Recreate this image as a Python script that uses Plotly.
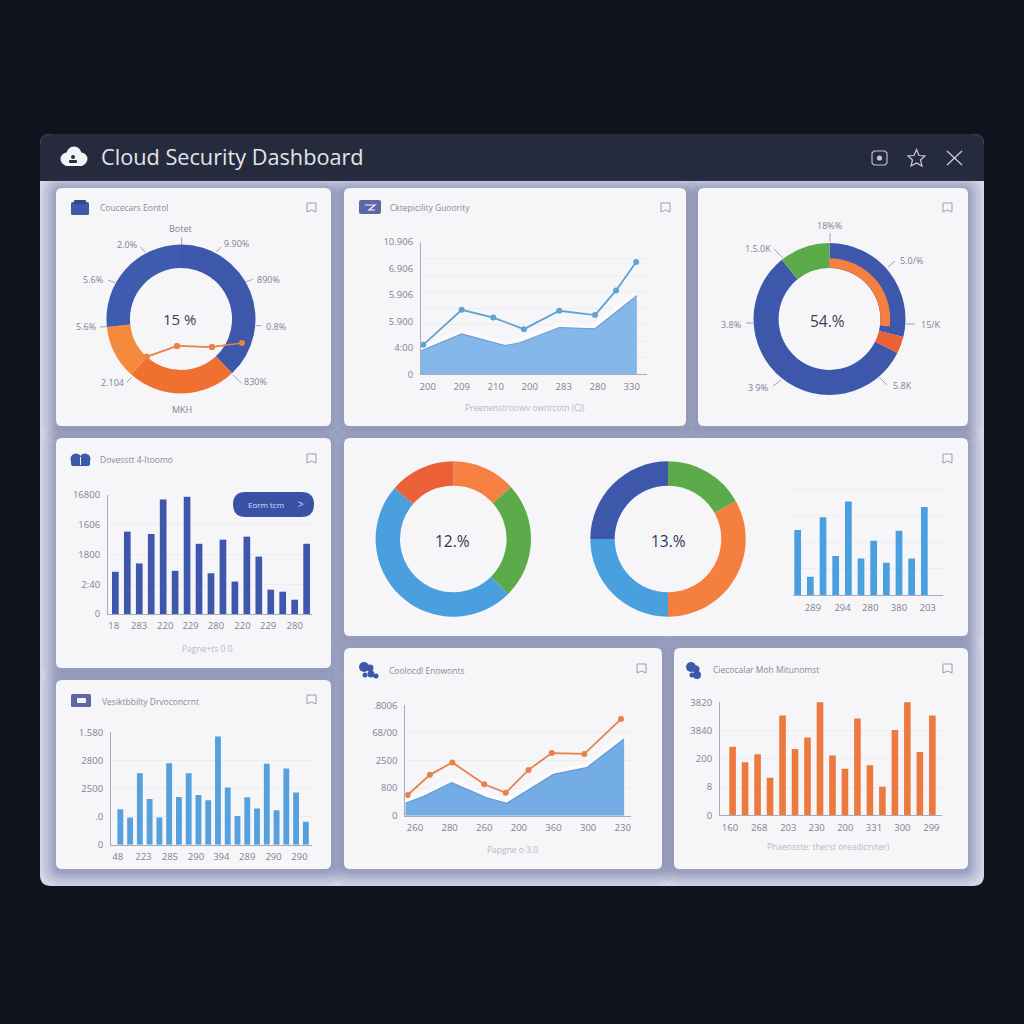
import plotly.graph_objects as go

PAGE = 1024
FONT = "Open Sans"

BLUE = "#3d58ab"
SKY = "#4a9fdf"
ORANGE = "#f47f3f"
RED = "#ec6038"
GREEN = "#5cab4a"
AXIS_TEXT = "#7d8293"
TITLE_TEXT = "#868b9a"
FOOT_TEXT = "#b5b9c5"
GRID = "#ecedf1"
AXIS_LINE = "#a7acbd"

# donut 1
D1_VALUES = [38, 23.6, 11.7, 26.7]
D1_COLORS = [BLUE, "#f0702f", "#f58a3c", "#3f5bb0"]
D1_LINE_X = [0.67, 3.7, 7.2, 10.2]
D1_LINE_Y = [0.83, 1.9, 1.8, 2.2]

# donut 2, outer ring and the thin inner arc
D2_VALUES = [28.8, 3.6, 56.8, 10.8]
D2_COLORS = [BLUE, RED, BLUE, GREEN]
D2_ARC_VALUES = [27, 73]

# wide card donuts
D3_VALUES = [13.3, 24.2, 48.9, 13.6]
D3_COLORS = ["#f58042", GREEN, SKY, RED]
D4_VALUES = [16.9, 33.1, 25, 25]
D4_COLORS = [GREEN, ORANGE, SKY, BLUE]

# card 2, line over area
C2_LINE_X = [-0.13, 1, 1.93, 2.83, 3.87, 4.92, 5.54, 6.13]
C2_LINE_Y = [1.78, 3.9, 3.43, 2.73, 3.84, 3.58, 5.07, 6.79]
C2_AREA_X = [-0.196, 1, 2.27, 2.67, 3.87, 4.92, 6.15]
C2_AREA_Y = [1.41, 2.44, 1.74, 1.88, 2.83, 2.75, 4.75]
C2_X_TICKS = ["200", "209", "210", "200", "283", "280", "330"]
C2_Y_VALS = [0, 1.6, 3.2, 4.8, 6.4, 8]
C2_Y_TICKS = ["0", "4:00", "5.900", "5.906", "6.906", "10.906"]

# card 4, bars
C4_VALUES = [1.42, 2.77, 1.70, 2.69, 3.85, 1.45, 3.94, 2.36, 1.37, 2.5, 1.09, 2.6, 1.93, 0.82, 0.75, 0.48, 2.36]
C4_X_VALS = [-0.14, 1.99, 4.17, 6.29, 8.42, 10.63, 12.78, 15.0]
C4_X_TICKS = ["18", "283", "220", "229", "280", "220", "229", "280"]
C4_Y_TICKS = ["0", "2:40", "1800", "1606", "16800"]

# card 5, bars
C5_VALUES = [2.46, 0.70, 2.94, 1.48, 3.54, 1.39, 2.06, 1.23, 2.43, 1.39, 3.33]
C5_X_VALS = [1.21, 3.54, 5.73, 8.0, 10.26]
C5_X_TICKS = ["289", "294", "280", "380", "203"]

# card 6, bars
C6_VALUES = [1.26, 0.97, 2.54, 1.63, 0.97, 2.90, 1.70, 2.54, 1.77, 1.58, 3.85, 2.04, 1.02, 1.69, 1.29, 2.88, 1.23, 2.71, 1.86, 0.82]
C6_X_VALS = [-0.27, 2.36, 5.07, 7.74, 10.34, 13.0, 15.69, 18.35]
C6_X_TICKS = ["48", "223", "285", "290", "394", "289", "290", "290"]
C6_Y_TICKS = ["0", ".0", "2500", "2800", "1.580"]

# card 7, line over area
C7_LINE_X = [-0.21, 0.43, 1.08, 2.0, 2.62, 3.28, 3.95, 4.89, 5.95]
C7_LINE_Y = [0.75, 1.48, 1.93, 1.14, 0.83, 1.66, 2.27, 2.24, 3.5]
C7_AREA_X = [-0.28, 0.24, 1.06, 2.07, 2.65, 4.0, 4.96, 6.04]
C7_AREA_Y = [0.45, 0.69, 1.2, 0.65, 0.45, 1.5, 1.74, 2.78]
C7_X_TICKS = ["260", "280", "260", "200", "360", "300", "230"]
C7_Y_TICKS = ["0", "800", "2500", "68/00", ".8006"]

# card 8, bars
C8_VALUES = [2.43, 1.88, 2.16, 1.33, 3.53, 2.35, 2.75, 4.26, 2.12, 1.65, 3.43, 1.77, 1.01, 3.02, 4.26, 2.24, 3.53]
C8_X_VALS = [-0.21, 2.13, 4.46, 6.73, 9.03, 11.32, 13.6, 15.92]
C8_X_TICKS = ["160", "268", "203", "230", "200", "331", "300", "299"]
C8_Y_TICKS = ["0", "8", "200", "3840", "3820"]

fig = go.Figure()
shapes = []
notes = []


def px(x):
    return x / PAGE


def py(y):
    return 1 - y / PAGE


def rounded(x0, y0, x1, y1, r, top=True, bottom=True):
    rt = r if top else 0
    rb = r if bottom else 0
    return (
        f"M {px(x0 + rt)} {py(y0)} L {px(x1 - rt)} {py(y0)} Q {px(x1)} {py(y0)} {px(x1)} {py(y0 + rt)} "
        f"L {px(x1)} {py(y1 - rb)} Q {px(x1)} {py(y1)} {px(x1 - rb)} {py(y1)} "
        f"L {px(x0 + rb)} {py(y1)} Q {px(x0)} {py(y1)} {px(x0)} {py(y1 - rb)} "
        f"L {px(x0)} {py(y0 + rt)} Q {px(x0)} {py(y0)} {px(x0 + rt)} {py(y0)} Z"
    )


def add_path(points, color, width=1.2, fill=None, closed=False):
    d = "M " + " L ".join(f"{px(x)} {py(y)}" for x, y in points)
    if closed:
        d += " Z"
    shapes.append(dict(type="path", xref="paper", yref="paper", path=d, layer="below",
                       fillcolor=fill, line=dict(color=color, width=width)))


def add_box(x0, y0, x1, y1, r, fill, top=True, bottom=True):
    shapes.append(dict(type="path", xref="paper", yref="paper", path=rounded(x0, y0, x1, y1, r, top, bottom),
                       layer="below", fillcolor=fill, line=dict(width=0)))


def add_dot(cx, cy, r, fill, layer="below"):
    shapes.append(dict(type="circle", xref="paper", yref="paper", layer=layer,
                       x0=px(cx - r), x1=px(cx + r), y0=py(cy + r), y1=py(cy - r),
                       fillcolor=fill, line=dict(width=0)))


def label(x, y, text, size=9, color=AXIS_TEXT, anchor="center"):
    notes.append(dict(xref="paper", yref="paper", x=px(x), y=py(y), text=text, showarrow=False,
                      xanchor=anchor, yanchor="middle", font=dict(family=FONT, size=size, color=color)))


def leader(x0, y0, x1, y1):
    add_path([(x0, y0), (x1, y1)], "#8a8fa0", 0.8)


def bookmark(x, y):
    add_path([(x, y), (x + 9, y), (x + 9, y + 9), (x + 4.5, y + 7), (x, y + 9)], "#9a9eac", 1, closed=True)


def donut(values, colors, cx, cy, r, hole):
    fig.add_trace(go.Pie(values=values, sort=False, direction="clockwise", rotation=0, hole=hole,
                         marker=dict(colors=colors, line=dict(width=0)), textinfo="none", showlegend=False,
                         domain=dict(x=[px(cx - r), px(cx + r)], y=[py(cy + r), py(cy - r)])))


def axes(n, box, xrange, yrange, xvals=None, xticks=None, yvals=None, yticks=None, ygrid=None, yline=True):
    x0, y0, x1, y1 = box
    xaxis = dict(domain=[px(x0), px(x1)], range=xrange, anchor=f"y{n}", showgrid=False, zeroline=False,
                 showline=True, linecolor=AXIS_LINE, linewidth=1, tickmode="array",
                 tickvals=xvals or [], ticktext=xticks or [], ticklabelstandoff=3,
                 tickfont=dict(family=FONT, size=9.5, color=AXIS_TEXT))
    yaxis = dict(domain=[py(y1), py(y0)], range=yrange, anchor=f"x{n}", showgrid=ygrid is None,
                 gridcolor=GRID, gridwidth=1, zeroline=False, showline=yline, linecolor=AXIS_LINE, linewidth=1,
                 tickmode="array", tickvals=yvals or [], ticktext=yticks or [], ticklabelstandoff=5,
                 tickfont=dict(family=FONT, size=9.5, color=AXIS_TEXT))
    if ygrid is not None:
        yaxis["minor"] = dict(tickmode="array", tickvals=ygrid, showgrid=True, gridcolor=GRID, gridwidth=1, ticks="")
    fig.layout[f"xaxis{n}"] = xaxis
    fig.layout[f"yaxis{n}"] = yaxis


def bars(n, values, color, width):
    fig.add_trace(go.Bar(x=list(range(len(values))), y=values, width=width, marker=dict(color=color, line=dict(width=0)),
                         cliponaxis=False, showlegend=False, xaxis=f"x{n}", yaxis=f"y{n}"))


def area_line(n, ax, ay, lx, ly, fill, edge, color):
    fig.add_trace(go.Scatter(x=ax, y=ay, mode="lines", line=dict(color="rgba(255,255,255,0.6)", width=9),
                             showlegend=False, xaxis=f"x{n}", yaxis=f"y{n}"))
    fig.add_trace(go.Scatter(x=ax, y=ay, mode="lines", fill="tozeroy", fillcolor=fill, line=dict(color=edge, width=1.2),
                             showlegend=False, xaxis=f"x{n}", yaxis=f"y{n}"))
    fig.add_trace(go.Scatter(x=lx, y=ly, mode="lines+markers", line=dict(color=color, width=1.8),
                             marker=dict(color=color, size=6), showlegend=False, xaxis=f"x{n}", yaxis=f"y{n}"))


# window
add_box(40, 134, 984, 886, 11, "#d3d5e7")
add_box(40, 134, 984, 181, 11, "#252a3d", bottom=False)

cards = [
    (56, 188, 331, 426), (344, 188, 686, 426), (698, 188, 968, 426),
    (56, 438, 331, 668), (344, 438, 968, 636),
    (56, 680, 331, 869), (344, 648, 662, 869), (674, 648, 968, 869),
]
for x0, y0, x1, y1 in cards:
    for pad in (2, 4, 6, 8, 11, 14):
        add_box(x0 - pad, y0 - pad + 2, x1 + pad, y1 + pad + 2, 7 + pad, "rgba(70,76,135,0.075)")
for x0, y0, x1, y1 in cards:
    add_box(x0, y0, x1, y1, 6, "#f6f6f9")

# title bar
add_dot(67, 159, 6.5, "#f4f4f6")
add_dot(74, 154, 7.5, "#f4f4f6")
add_dot(81, 159, 6.5, "#f4f4f6")
add_box(64, 158, 84, 166, 3, "#f4f4f6")
add_dot(73, 157, 2, "#2a2f42")
add_box(69, 160, 77, 163, 1, "#2a2f42")
label(99, 156.5, "Cloud Security Dashboard", size=21.7, color="#e3e4e8", anchor="left")
add_path([(874, 151), (885, 151), (887, 153), (887, 163), (885, 165), (874, 165), (872, 163), (872, 153)], "#c3c7d3", 1.1, closed=True)
add_dot(879.5, 158, 2.6, "#c3c7d3")
add_path([(916.5, 149.5), (919, 155.5), (925, 156), (920.5, 160), (922, 166), (916.5, 163), (911, 166), (912.5, 160),
          (908, 156), (914, 155.5)], "#c8ccd8", 1.2, closed=True)
add_path([(947, 151), (962, 165)], "#c8ccd8", 1.3)
add_path([(962, 151), (947, 165)], "#c8ccd8", 1.3)

for bx, by in [(307, 203), (661, 203), (943, 203), (307, 454), (943, 454), (307, 695), (637, 664), (943, 664)]:
    bookmark(bx, by)

# card icons
add_box(71, 202, 89, 215, 1.5, "#3d58a8")
add_box(74, 200, 86, 204, 1, "#34497f")
add_box(359, 200, 381, 214, 2, "#5d68a4")
add_path([(365, 205), (375, 205), (369, 210), (375, 210)], "#f2f3f8", 1.2)
add_dot(76, 459, 5.5, "#3d58a8")
add_dot(85, 459, 5.5, "#3d58a8")
add_box(71, 459, 90, 466, 2, "#3d58a8")
add_path([(80.5, 457), (80.5, 465)], "#f2f3f8", 1)
add_box(71, 694, 91, 707, 1.5, "#5d68a4")
add_box(77, 698, 86, 703, 1, "#f2f3f8")
for cx, cy, r in [(364, 667, 5), (370, 668, 3.5), (371, 674, 3.5), (376, 676, 2.5), (365, 675, 2.5)]:
    add_dot(cx, cy, r, "#3d58a8")
for cx, cy, r in [(691, 667, 5), (696, 669, 3.5), (697, 675, 4), (692, 675, 2.5)]:
    add_dot(cx, cy, r, "#3d58a8")

# card titles
label(98, 207.5, "Coucecars Eontol", size=8.5, color=TITLE_TEXT, anchor="left")
label(388, 207.5, "Cktepicility Guoority", size=8.5, color=TITLE_TEXT, anchor="left")
label(98, 459.5, "Dovesstt 4-Itoomo", size=8.5, color=TITLE_TEXT, anchor="left")
label(100, 701.5, "Vesiktbbilty Drvoconcrnt", size=8.5, color=TITLE_TEXT, anchor="left")
label(387, 670.5, "Coolocdl Enowonts", size=8.5, color=TITLE_TEXT, anchor="left")
label(711, 669.5, "Ciecocalar Moh Mitunomst", size=8.5, color=TITLE_TEXT, anchor="left")

# footers
label(525, 407, "Preenenstrtiowv owntcotn (CJ)", size=8.5, color=FOOT_TEXT)
label(207, 648, "Pagne+ts 0 0", size=8.5, color=FOOT_TEXT)
label(512, 849, "Papgne o 3.0", size=8.5, color=FOOT_TEXT)
label(828, 846, "Phaensste: therst oreadicrvter)", size=8.5, color=FOOT_TEXT)

# donut 1
donut(D1_VALUES, D1_COLORS, 181, 319, 74.5, 0.685)
label(179, 319, "15 %", size=15, color="#3a4054")
for x, y, t in [(127, 244, "2.0%"), (236, 243, "9.90%"), (93, 279, "5.6%"), (268, 279, "890%"), (86, 326, "5.6%"),
                (276, 326, "0.8%"), (112, 382, "2.104"), (255, 381, "830%"), (180, 228, "Botet"), (182, 409, "MKH")]:
    label(x, y, t)
for seg in [(181.7, 237, 181.7, 245), (140.7, 246.7, 145, 252.3), (216.7, 252, 221, 246.7), (108, 280, 115, 282.7),
            (246, 281.7, 252.7, 279.3), (100, 327, 106.7, 326.7), (256, 325.7, 261.7, 325.7),
            (126.7, 382.3, 131.7, 377.3), (233, 375, 241.7, 383.3)]:
    leader(*seg)

axes(1, (140, 335, 250, 365), [0, 11], [0, 3], yline=False)
fig.layout.xaxis1.visible = False
fig.layout.yaxis1.visible = False
fig.add_trace(go.Scatter(x=D1_LINE_X, y=D1_LINE_Y, mode="lines+markers", line=dict(color="#ea8347", width=1.5),
                         marker=dict(color="#ea8347", size=6), showlegend=False, xaxis="x1", yaxis="y1"))
# pies sit over the cartesian layer, so the part of the line on the ring goes in as an upper shape
shapes.append(dict(type="path", xref="x1", yref="y1", layer="above",
                   path="M " + " L ".join(f"{x} {y}" for x, y in zip(D1_LINE_X, D1_LINE_Y)),
                   line=dict(color="#ea8347", width=1.5)))
for x, y in zip(D1_LINE_X, D1_LINE_Y):
    shapes.append(dict(type="circle", xref="x1", yref="y1", layer="above", xsizemode="pixel", ysizemode="pixel",
                       xanchor=x, yanchor=y, x0=-3, x1=3, y0=-3, y1=3, fillcolor="#ea8347", line=dict(width=0)))

# donut 2
donut(D2_VALUES, D2_COLORS, 829.5, 319, 76, 0.67)
donut(D2_ARC_VALUES, [ORANGE, "rgba(0,0,0,0)"], 829.5, 319, 60.7, 0.84)
label(827, 321, "54.%", size=15.5, color="#3a4054")
for x, y, t in [(829, 225, "18%%"), (758, 248, "1.5.0K"), (911, 260, "5.0/%"), (731, 324, "3.8%"), (931, 324, "15/K"),
                (758, 387, "3 9%"), (902, 385, "5.8K")]:
    label(x, y, t)
for seg in [(830, 233, 830, 242), (774, 249, 783, 258), (888, 267, 895, 261), (746, 323, 753, 323), (906, 324, 915, 324),
            (773, 386, 781, 380), (879, 377, 887, 385)]:
    leader(*seg)

# wide card donuts
donut(D3_VALUES, D3_COLORS, 453.3, 539, 77.7, 0.686)
donut(D4_VALUES, D4_COLORS, 668, 539, 77.7, 0.686)
label(452, 540.5, "12.%", size=15.5, color="#2c3650")
label(668, 540.5, "13.%", size=15.5, color="#2c3650")

# card 2
axes(2, (421, 242, 646.7, 374.3), [-0.196, 6.44], [0, 8], list(range(7)), C2_X_TICKS, C2_Y_VALS, C2_Y_TICKS,
     ygrid=[1, 2, 3, 4, 5, 6, 7, 8])
area_line(2, C2_AREA_X, C2_AREA_Y, C2_LINE_X, C2_LINE_Y, "#85b7ea", "#6d9fd6", "#5fa3d0")

# card 4
axes(4, (108, 495, 312, 614), [-0.615, 16.45], [0, 4], C4_X_VALS, C4_X_TICKS, [0, 1, 2, 3, 4], C4_Y_TICKS)
bars(4, C4_VALUES, BLUE, 0.56)
shapes.append(dict(type="path", xref="paper", yref="paper", layer="above", path=rounded(233, 492, 314, 517, 12.5),
                   fillcolor="#3a52a5", line=dict(width=0)))
label(266, 504.5, "Eorm tcm", size=8, color="#d8ddf0")
label(301, 504, "&gt;", size=10, color="#d8ddf0")

# card 5
axes(5, (793, 485, 942.7, 595.3), [-0.37, 11.45], [0, 4.16], C5_X_VALS, C5_X_TICKS, [0, 1, 2, 3, 4], [""] * 5, yline=False)
bars(5, C5_VALUES, SKY, 0.53)

# card 6
axes(6, (111, 732.3, 311.7, 844.7), [-0.957, 19.6], [0, 4], C6_X_VALS, C6_X_TICKS, [0, 1, 2, 3, 4], C6_Y_TICKS)
bars(6, C6_VALUES, "#56a0de", 0.6)

# card 7
axes(7, (405.3, 705.3, 630.7, 815.7), [-0.28, 6.23], [0, 4], list(range(7)), C7_X_TICKS, [0, 1, 2, 3, 4], C7_Y_TICKS)
area_line(7, C7_AREA_X, C7_AREA_Y, C7_LINE_X, C7_LINE_Y, "#74ace6", "#6498d2", "#e5834a")

# card 8
axes(8, (720, 702.3, 941.7, 815.3), [-1.01, 16.75], [0, 4], C8_X_VALS, C8_X_TICKS, [0, 1, 2, 3, 4], C8_Y_TICKS)
bars(8, C8_VALUES, "#ec7a3f", 0.53)

fig.update_layout(
    width=PAGE, height=PAGE,
    margin=dict(l=0, r=0, t=0, b=0, pad=0, autoexpand=False),
    paper_bgcolor="#10121e",
    plot_bgcolor="rgba(0,0,0,0)",
    showlegend=False,
    bargap=0.4,
    font=dict(family=FONT),
    shapes=shapes,
    annotations=notes,
)

fig.write_html("out.html", config=dict(displayModeBar=False),
               post_script="document.body.style.margin='0';document.body.style.background='#10121e';")
